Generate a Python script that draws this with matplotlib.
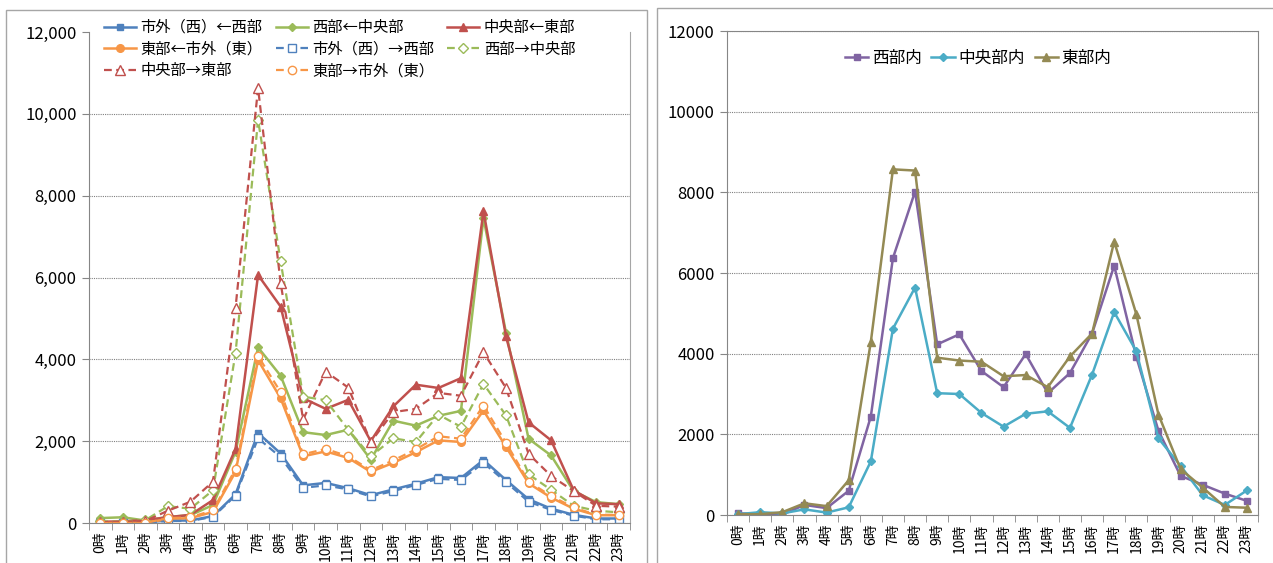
import numpy as np
import matplotlib.pyplot as plt
from matplotlib.patches import Rectangle
from matplotlib.ticker import FuncFormatter

plt.rcParams['font.family'] = ['Noto Sans CJK JP', 'DejaVu Sans']

hours = [f'{h}時' for h in range(24)]

# left chart: flows between zones
west_out_from_west = [10, 20, 20, 60, 60, 170, 700, 2200, 1700, 920, 980, 850, 680, 820, 960, 1120, 1100, 1540, 1050, 580, 350, 200, 110, 110]
west_from_central = [120, 140, 60, 150, 190, 440, 1740, 4290, 3600, 2220, 2150, 2280, 1550, 2500, 2380, 2620, 2740, 7450, 4650, 2060, 1650, 780, 510, 460]
central_from_east = [30, 40, 70, 140, 200, 560, 1810, 6060, 5290, 3050, 2790, 3010, 2000, 2850, 3380, 3300, 3540, 7620, 4560, 2460, 2020, 800, 480, 460]
east_from_east_out = [0, 0, 0, 100, 120, 270, 1250, 3980, 3050, 1630, 1750, 1590, 1250, 1470, 1730, 2020, 1980, 2750, 1860, 970, 620, 350, 190, 190]
west_out_to_west = [0, 10, 10, 50, 50, 150, 670, 2070, 1610, 860, 920, 820, 650, 780, 930, 1080, 1050, 1470, 1000, 520, 320, 180, 90, 90]
west_to_central = [40, 30, 70, 410, 350, 800, 4150, 9850, 6400, 3090, 3000, 2280, 1630, 2070, 1980, 2650, 2350, 3400, 2630, 1190, 810, 420, 300, 260]
central_to_east = [20, 30, 50, 300, 520, 1010, 5260, 10630, 5870, 2530, 3700, 3310, 1980, 2710, 2790, 3180, 3110, 4170, 3300, 1690, 1150, 780, 420, 400]
east_to_east_out = [0, 0, 0, 120, 140, 310, 1320, 4080, 3200, 1680, 1810, 1630, 1290, 1530, 1800, 2120, 2060, 2870, 1960, 1010, 660, 380, 200, 200]

# right chart: within-zone trips
west_in = [40, 25, 10, 250, 170, 600, 2440, 6370, 8020, 4230, 4480, 3570, 3170, 3990, 3020, 3520, 4500, 6180, 3920, 2090, 970, 750, 530, 350]
central_in = [20, 70, 40, 140, 60, 190, 1330, 4620, 5640, 3020, 3000, 2530, 2190, 2510, 2570, 2160, 3480, 5030, 4060, 1900, 1220, 490, 250, 610]
east_in = [20, 20, 70, 290, 220, 860, 4290, 8570, 8540, 3900, 3830, 3800, 3440, 3470, 3170, 3930, 4500, 6780, 4980, 2490, 1140, 680, 200, 180]

blue, green, red, orange = '#4F81BD', '#9BBB59', '#C0504D', '#F79646'
purple, aqua, olive = '#8064A2', '#4BACC6', '#948A54'

x = np.arange(24)
W, H = 1273, 563
fig = plt.figure(figsize=(W / 100, H / 100), dpi=100)

# outer chart frames
fig.add_artist(Rectangle((6 / W, -0.05), 641 / W, 1.05 - 10 / H, transform=fig.transFigure,
                         fill=False, edgecolor='#A6A6A6', lw=1))
fig.add_artist(Rectangle((657 / W, -0.05), 0.5, 1.05 - 8 / H, transform=fig.transFigure,
                         fill=False, edgecolor='#A6A6A6', lw=1))

ax1 = fig.add_axes([89 / W, (H - 523) / H, 541 / W, 491 / H])
ax2 = fig.add_axes([727 / W, (H - 515) / H, 531 / W, 484 / H])

dash = (0, (3.5, 2))
solid_kw = dict(lw=1.8)
dash_kw = dict(lw=1.6, ls=dash, mfc='white')

lines = []
lines += ax1.plot(x, west_out_from_west, color=blue, marker='s', ms=5, label='市外（西）←西部', **solid_kw)
lines += ax1.plot(x, west_from_central, color=green, marker='D', ms=4.5, label='西部←中央部', **solid_kw)
lines += ax1.plot(x, central_from_east, color=red, marker='^', ms=6, label='中央部←東部', **solid_kw)
lines += ax1.plot(x, east_from_east_out, color=orange, marker='o', ms=5.5, label='東部←市外（東）', **solid_kw)
lines += ax1.plot(x, west_out_to_west, color=blue, marker='s', ms=5.5, mew=1, label='市外（西）→西部', **dash_kw)
lines += ax1.plot(x, west_to_central, color=green, marker='D', ms=5, mew=1, label='西部→中央部', **dash_kw)
lines += ax1.plot(x, central_to_east, color=red, marker='^', ms=6.5, mew=1, label='中央部→東部', **dash_kw)
lines += ax1.plot(x, east_to_east_out, color=orange, marker='o', ms=6, mew=1, label='東部→市外（東）', **dash_kw)

order = [0, 3, 6, 1, 4, 7, 2, 5]
ax1.legend([lines[i] for i in order], [lines[i].get_label() for i in order], ncol=3,
           loc='upper left', bbox_to_anchor=(104 / W, 1 - 19 / H), bbox_transform=fig.transFigure,
           frameon=False, fontsize=11, handlelength=2.1, handletextpad=0.3,
           columnspacing=0.85, labelspacing=0.3, borderaxespad=0, borderpad=0)

ax2.plot(x, west_in, color=purple, marker='s', ms=5, lw=1.8, label='西部内')
ax2.plot(x, central_in, color=aqua, marker='D', ms=4.5, lw=1.8, label='中央部内')
ax2.plot(x, east_in, color=olive, marker='^', ms=6, lw=1.8, label='東部内')
ax2.legend(ncol=3, loc='center', bbox_to_anchor=(978 / W, 1 - 58 / H), bbox_transform=fig.transFigure,
           frameon=False, fontsize=12, handlelength=1.4, handletextpad=0.2,
           columnspacing=0.6, borderaxespad=0, borderpad=0)

for ax in (ax1, ax2):
    ax.set_xlim(-0.5, 23.5)
    ax.set_ylim(0, 12000)
    ax.set_yticks(np.arange(0, 12001, 2000))
    ax.set_xticks(x)
    ax.set_xticklabels(hours, rotation=90, fontsize=10)
    ax.set_xticks(np.arange(-0.5, 24, 1), minor=True)
    ax.tick_params(axis='x', which='major', length=0, pad=6)
    ax.tick_params(axis='x', which='minor', length=5, color='#868686')
    ax.tick_params(axis='y', length=5, color='#868686', labelsize=12, pad=4)
    ax.grid(axis='y', ls=(0, (1, 1)), color='#808080', lw=0.8)
    for s in ax.spines.values():
        s.set_color('#868686')
    ax.set_axisbelow(True)

ax1.yaxis.set_major_formatter(FuncFormatter(lambda v, p: f'{int(v):,}'))
ax1.spines['top'].set_visible(False)
ax1.spines['right'].set_color('#A6A6A6')
ax1.yaxis.get_gridlines()[-1].set_visible(False)

fig.savefig('out.png', dpi=100)
